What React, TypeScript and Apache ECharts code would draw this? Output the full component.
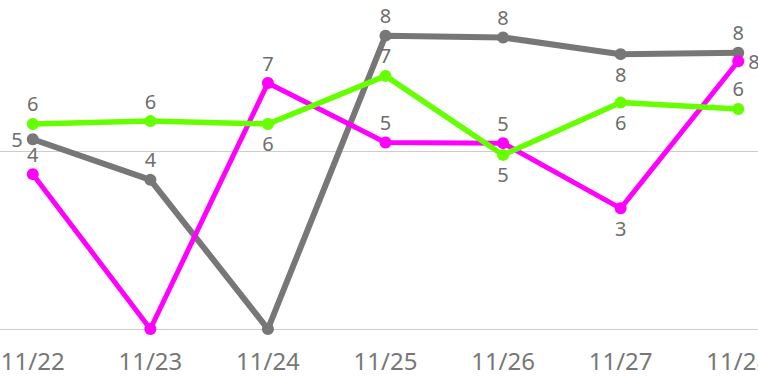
import React, { useEffect, useRef } from "react";
import * as echarts from "echarts";

const categories = ["11/22", "11/23", "11/24", "11/25", "11/26", "11/27", "11/28"];
const grayValues = [5.33, 4.19, 0, 8.24, 8.19, 7.72, 7.76];
const magentaValues = [4.35, 0, 6.91, 5.24, 5.22, 3.39, 7.52];
const greenValues = [5.76, 5.84, 5.76, 7.11, 4.89, 6.36, 6.18];

const grayLabelPos = ["left", "top", "top", "top", "top", "bottom", "top"];
const magentaLabelPos = ["top", "top", "top", "top", "top", "bottom", "right"];
const greenLabelPos = ["top", "top", "bottom", "top", "bottom", "bottom", "top"];

const FONT = "'Noto Sans', sans-serif";

function buildData(values: number[], pos: string[]) {
  return values.map((v, i) => ({
    value: v,
    label: { show: v !== 0, position: pos[i] as any },
  }));
}

function makeSeries(name: string, color: string, values: number[], pos: string[], width: number) {
  return {
    name,
    type: "line",
    data: buildData(values, pos),
    symbol: "circle",
    symbolSize: 12,
    lineStyle: { color, width },
    itemStyle: { color },
    label: {
      show: true,
      color: "#6e6e6e",
      fontFamily: FONT,
      fontSize: 20,
      distance: 4,
      formatter: (p: any) => String(Math.round(p.value)),
    },
    emphasis: { disabled: true },
  };
}

export default function App() {
  const ref = useRef<HTMLDivElement>(null);
  useEffect(() => {
    document.body.style.margin = "0";
    if (!ref.current) return;
    const chart = echarts.init(ref.current, undefined, { renderer: "svg" });
    chart.setOption({
      animation: false,
      grid: { left: 0, right: 0, top: 0, bottom: 50, containLabel: false },
      xAxis: {
        type: "category",
        data: categories,
        boundaryGap: true,
        axisLine: { show: false },
        axisTick: { show: false },
        axisLabel: {
          color: "#777777",
          fontFamily: FONT,
          fontSize: 24,
          margin: 19,
        },
      },
      yAxis: {
        type: "value",
        min: 0,
        max: 10,
        interval: 5,
        axisLabel: { show: false },
        axisLine: { show: false },
        axisTick: { show: false },
        splitLine: { show: true, lineStyle: { color: "#cccccc", width: 1 } },
      },
      series: [
        makeSeries("Gray", "#777777", grayValues, grayLabelPos, 6),
        makeSeries("Magenta", "#ff00ff", magentaValues, magentaLabelPos, 5),
        makeSeries("Green", "#66ff00", greenValues, greenLabelPos, 5.5),
      ],
    });
    return () => chart.dispose();
  }, []);
  return (
    <div style={{ width: 758, height: 379, overflow: "hidden", position: "relative" }}>
      <div
        ref={ref}
        style={{ position: "absolute", left: -25.75, top: -27, width: 822.5, height: 406 }}
      />
    </div>
  );
}
